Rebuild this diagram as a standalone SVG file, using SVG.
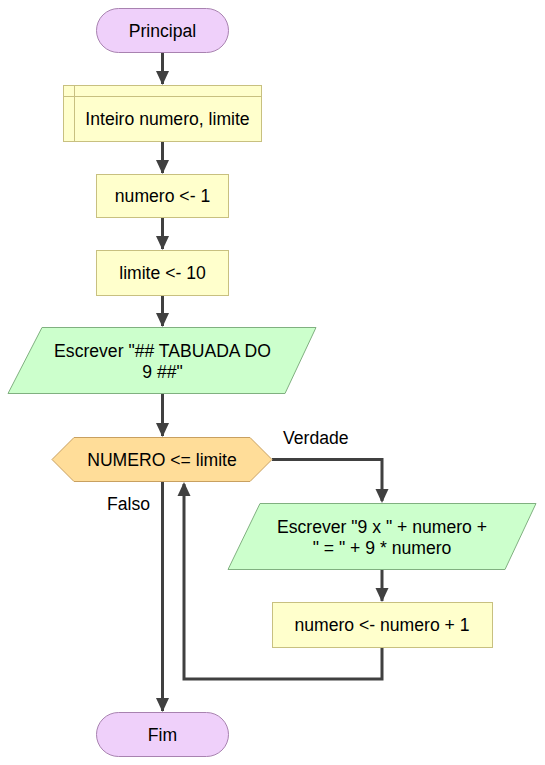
<svg xmlns="http://www.w3.org/2000/svg" width="545" height="765" viewBox="0 0 545 765">
<defs>
<style>
text{font-family:"Liberation Sans",Arial,sans-serif;font-size:17.6px;fill:#000;text-anchor:middle}
.term{fill:#efd0fa;stroke:#a882b0;stroke-width:1}
.proc{fill:#ffffcc;stroke:#c8c080;stroke-width:1}
.io{fill:#ccffcc;stroke:#80b080;stroke-width:1}
.dec{fill:#ffdd99;stroke:#c8a060;stroke-width:1}
.c{fill:none;stroke:#404040;stroke-width:3}
.ah{fill:#404040}
.lbl{text-anchor:start}
</style>
</defs>
<rect width="545" height="765" fill="#fff"/>
<g id="connectors">
<line class="c" x1="162.5" y1="52" x2="162.5" y2="84"/>
<path class="ah" d="M156,71 L169,71 L162.5,85 Z"/>
<line class="c" x1="162.5" y1="141" x2="162.5" y2="173"/>
<path class="ah" d="M156,160 L169,160 L162.5,174 Z"/>
<line class="c" x1="162.5" y1="217" x2="162.5" y2="249"/>
<path class="ah" d="M156,236 L169,236 L162.5,250 Z"/>
<line class="c" x1="162.5" y1="295" x2="162.5" y2="326"/>
<path class="ah" d="M156,313 L169,313 L162.5,327 Z"/>
<line class="c" x1="162.5" y1="393" x2="162.5" y2="436"/>
<path class="ah" d="M156,423 L169,423 L162.5,437 Z"/>
<polyline class="c" points="272,459.5 382,459.5 382,501"/>
<path class="ah" d="M375.5,489 L388.5,489 L382,503 Z"/>
<line class="c" x1="382" y1="569" x2="382" y2="601"/>
<path class="ah" d="M375.5,588 L388.5,588 L382,602 Z"/>
<polyline class="c" points="382,647 382,679 184,679 184,484"/>
<path class="ah" d="M177.5,496 L190.5,496 L184,482 Z"/>
<line class="c" x1="162.5" y1="482" x2="162.5" y2="711"/>
<path class="ah" d="M156,698 L169,698 L162.5,712 Z"/>
<text class="lbl" x="283" y="444">Verdade</text>
<text class="lbl" x="107" y="510">Falso</text>
</g>
<g id="n_principal">
<rect class="term" x="96.5" y="8.5" width="132" height="44" rx="22"/>
<text x="162.5" y="37">Principal</text>
</g>
<g id="n_decl">
<rect class="proc" x="63.5" y="85.5" width="198" height="56"/>
<line x1="63.5" y1="96.5" x2="261.5" y2="96.5" stroke="#c8c080"/>
<line x1="74.5" y1="85.5" x2="74.5" y2="141.5" stroke="#c8c080"/>
<text x="167.5" y="125">Inteiro numero, limite</text>
</g>
<g id="n_num1">
<rect class="proc" x="96.5" y="174.5" width="132" height="43"/>
<text x="162.5" y="202">numero &lt;- 1</text>
</g>
<g id="n_lim10">
<rect class="proc" x="96.5" y="250.5" width="132" height="45"/>
<text x="162.5" y="279">limite &lt;- 10</text>
</g>
<g id="n_write1">
<polygon class="io" points="42,327.5 316,327.5 285,393.5 8,393.5"/>
<text x="162.5" y="357">Escrever "## TABUADA DO</text>
<text x="162.5" y="378">9 ##"</text>
</g>
<g id="n_dec">
<polygon class="dec" points="52,459.5 74,437.5 250,437.5 272,459.5 250,481.5 74,481.5"/>
<text x="162" y="466">NUMERO &lt;= limite</text>
</g>
<g id="n_write2">
<polygon class="io" points="260,503.5 536,503.5 505,569.5 228,569.5"/>
<text x="382" y="533">Escrever "9 x " + numero +</text>
<text x="382" y="554">" = " + 9 * numero</text>
</g>
<g id="n_inc">
<rect class="proc" x="272.5" y="602.5" width="220" height="45"/>
<text x="382" y="631">numero &lt;- numero + 1</text>
</g>
<g id="n_fim">
<rect class="term" x="96.5" y="712.5" width="132" height="44" rx="22"/>
<text x="162.5" y="741">Fim</text>
</g>
</svg>
